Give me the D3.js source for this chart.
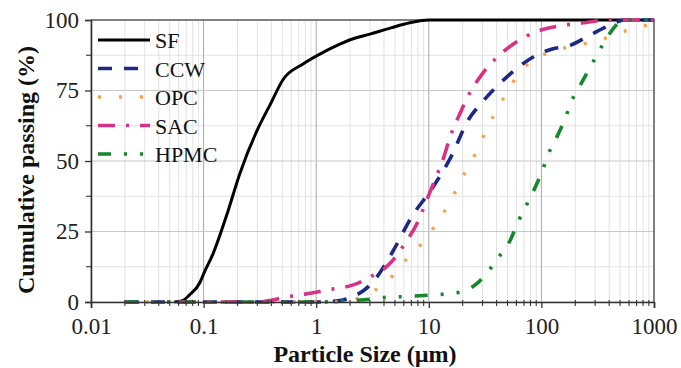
<!DOCTYPE html>
<html>
<head>
<meta charset="utf-8">
<script src="https://cdn.jsdelivr.net/npm/d3@7"></script>
<style>
  body { margin: 0; background: #fff; }
  text { font-family: "Liberation Serif", "Times New Roman", serif; }
</style>
</head>
<body>
<div id="chart"></div>
<script>
// particle size (um) and cumulative passing (%)
var sfSize = [0.055, 0.065, 0.075, 0.093, 0.1, 0.121, 0.161, 0.21, 0.3, 0.39, 0.51, 0.77, 1.15, 1.64, 2, 3, 4.6, 6.8, 10, 1000];
var sfPass = [0, 0.5, 2.5, 7, 10, 17, 31, 45.6, 61, 70, 79, 84.5, 88.5, 91.5, 93, 95, 97.2, 99, 100, 100];

var ccwSize = [0.02, 1, 1.5, 2, 3, 3.4, 4.8, 7, 11, 16, 22, 30, 37, 50, 66, 90, 125, 180, 260, 400, 550, 1000];
var ccwPass = [0, 0, 0.3, 1.5, 6, 8.5, 18, 30, 41, 52, 64, 71, 75, 80, 84, 87.5, 89.7, 91, 94.3, 98, 100, 100];

var opcSize = [0.02, 1.5, 2, 3, 4.4, 5.9, 8.1, 10.8, 13.7, 17.1, 21, 26, 31.6, 38.8, 49, 63, 86, 130, 200, 318, 480, 750, 1000];
var opcPass = [0, 0, 0.5, 3.2, 7.8, 13.8, 19.4, 25.8, 32, 39, 46, 52.6, 60, 67, 74, 81, 86, 89, 91, 92.6, 95.4, 97.5, 99];

var sacSize = [0.06, 0.3, 0.4, 0.5, 0.8, 1.3, 2.1, 2.9, 4.6, 6.2, 7.9, 10, 11.4, 13.5, 15.6, 19, 23, 30, 40, 59, 92, 145, 235, 400, 1000];
var sacPass = [0, 0, 0.6, 1.5, 2.8, 4.4, 6, 8.5, 14, 21, 28, 38, 43.5, 51, 59, 67, 74, 81, 86.6, 92, 96, 97.9, 99, 100, 100];

var hpmcSize = [0.02, 1, 2, 3, 4.3, 5.9, 9, 13.7, 19, 27, 35, 42, 53, 63, 73, 88, 103, 114, 139, 165, 183, 222, 275, 318, 386, 470, 550, 1000];
var hpmcPass = [0, 0, 0.5, 1, 1.7, 1.9, 2.3, 2.8, 3.5, 6.7, 11.7, 16, 22, 29, 34, 40.6, 47, 52, 59, 65.7, 70.7, 77, 83.7, 88.3, 94, 98.5, 100, 100];

var seriesNames = ["SF", "CCW", "OPC", "SAC", "HPMC"];
var xTicks = [0.01, 0.1, 1, 10, 100, 1000];
var yTicks = [0, 25, 50, 75, 100];

var series = [
  { name: "SF", x: sfSize, y: sfPass, color: "#000000", dash: null, w: 3 },
  { name: "CCW", x: ccwSize, y: ccwPass, color: "#1c2a86", dash: "14,12", w: 3.6 },
  { name: "OPC", x: opcSize, y: opcPass, color: "#f7a04a", dash: "3,18", w: 3.4 },
  { name: "SAC", x: sacSize, y: sacPass, color: "#d63384", dash: "17,11,3,11", w: 3.6 },
  { name: "HPMC", x: hpmcSize, y: hpmcPass, color: "#14882a", dash: "13,13,3,13,3,13", w: 3.6 }
];

var W = 681, H = 368;
var svg = d3.select("#chart").append("svg")
    .attr("width", W)
    .attr("height", H);

var x = d3.scaleLog().domain([0.01, 1000]).range([91, 654]);
var y = d3.scaleLinear().domain([0, 100]).range([302, 20]);

// minor grid
var minorX = [];
for (var e = -2; e < 3; e++) {
  for (var m = 2; m <= 9; m++) minorX.push(m * Math.pow(10, e));
}
var minorY = [12.5, 37.5, 62.5, 87.5];

var grid = svg.append("g");
grid.selectAll(".mx").data(minorX).enter().append("line")
    .attr("x1", d => x(d)).attr("x2", d => x(d))
    .attr("y1", y(0)).attr("y2", y(100))
    .attr("stroke", "#e2e2e2").attr("stroke-width", 1);
grid.selectAll(".my").data(minorY).enter().append("line")
    .attr("x1", x(0.01)).attr("x2", x(1000))
    .attr("y1", d => y(d)).attr("y2", d => y(d))
    .attr("stroke", "#e2e2e2").attr("stroke-width", 1);
grid.selectAll(".gx").data(xTicks).enter().append("line")
    .attr("x1", d => x(d)).attr("x2", d => x(d))
    .attr("y1", y(0)).attr("y2", y(100))
    .attr("stroke", "#a8a8a8").attr("stroke-width", 1);
grid.selectAll(".gy").data(yTicks).enter().append("line")
    .attr("x1", x(0.01)).attr("x2", x(1000))
    .attr("y1", d => y(d)).attr("y2", d => y(d))
    .attr("stroke", "#c8c8c8").attr("stroke-width", 1.2);

// frame top/right
svg.append("path")
    .attr("d", "M" + x(0.01) + "," + y(100) + "H" + x(1000) + "V" + y(0))
    .attr("fill", "none").attr("stroke", "#808080").attr("stroke-width", 2);

// curves
var line = d3.line()
    .x(d => x(d[0]))
    .y(d => y(d[1]))
    .curve(d3.curveMonotoneX);

series.forEach(function (s) {
  var pts = s.x.map((v, i) => [v, s.y[i]]);
  svg.append("path")
      .datum(pts)
      .attr("d", line)
      .attr("fill", "none")
      .attr("stroke", s.color)
      .attr("stroke-width", s.w)
      .attr("stroke-dasharray", s.dash);
});

// axes
var xAxis = svg.append("g")
    .attr("transform", "translate(0," + y(0) + ")")
    .call(d3.axisBottom(x).tickValues(xTicks).tickSize(6).tickFormat(d3.format("~g")));
xAxis.select(".domain").attr("stroke", "#333").attr("stroke-width", 1.6);
xAxis.selectAll(".tick line").attr("stroke", "#333").attr("stroke-width", 1.3);
xAxis.selectAll("text")
    .attr("font-size", 23).attr("fill", "#222").attr("dy", "1.02em");
xAxis.selectAll(".mt").data(minorX).enter().append("line")
    .attr("x1", d => x(d)).attr("x2", d => x(d))
    .attr("y1", -2).attr("y2", 4)
    .attr("stroke", "#333").attr("stroke-width", 1.1);

var yAxis = svg.append("g")
    .attr("transform", "translate(" + x(0.01) + ",0)")
    .call(d3.axisLeft(y).tickValues(yTicks).tickSize(6).tickPadding(6));
yAxis.select(".domain").attr("stroke", "#333").attr("stroke-width", 1.6);
yAxis.selectAll(".tick line").attr("stroke", "#333").attr("stroke-width", 1.3);
yAxis.selectAll("text")
    .attr("font-size", 23).attr("fill", "#222");
yAxis.selectAll(".mt").data(minorY).enter().append("line")
    .attr("x1", -5).attr("x2", 0)
    .attr("y1", d => y(d)).attr("y2", d => y(d))
    .attr("stroke", "#333").attr("stroke-width", 1.1);

// axis titles
svg.append("text")
    .attr("x", 365)
    .attr("y", 362)
    .attr("text-anchor", "middle")
    .attr("font-size", 24).attr("font-weight", "bold").attr("fill", "#111")
    .text("Particle Size (µm)");

svg.append("text")
    .attr("transform", "translate(34," + ((y(0) + y(100)) / 2 + 9) + ") rotate(-90)")
    .attr("text-anchor", "middle")
    .attr("font-size", 24).attr("font-weight", "bold").attr("fill", "#111")
    .text("Cumulative passing (%)");

// legend
var legend = svg.append("g").attr("transform", "translate(98,40)");
series.forEach(function (s, i) {
  var g = legend.append("g").attr("transform", "translate(0," + (i * 28.5) + ")");
  g.append("line")
      .attr("x1", 0).attr("x2", 52).attr("y1", 0).attr("y2", 0)
      .attr("stroke", s.color)
      .attr("stroke-width", s.w)
      .attr("stroke-dasharray", s.dash);
  g.append("text")
      .attr("x", 57).attr("y", 8)
      .attr("font-size", 22).attr("fill", "#111")
      .text(seriesNames[i]);
});
</script>
</body>
</html>
